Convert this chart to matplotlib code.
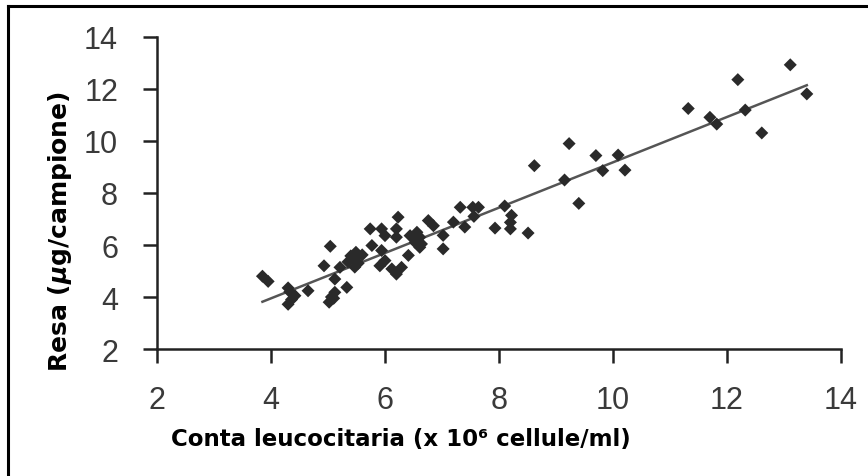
import matplotlib
matplotlib.use('Agg')
import matplotlib.pyplot as plt
from matplotlib.lines import Line2D
import numpy as np

# white cell count (x 10^6 cells/ml) vs DNA yield (ug per sample)
conta = [3.85, 3.95, 4.30, 4.33, 4.42, 4.36, 4.30, 4.65, 4.93, 5.04,
         5.12, 5.21, 5.12, 5.06, 5.02, 5.10, 5.33, 5.40, 5.46, 5.49,
         5.53, 5.35, 5.60, 5.47, 5.74, 5.77, 5.94, 6.00, 6.20, 6.20,
         5.94, 6.00, 5.91, 6.12, 6.20, 6.29, 6.23, 6.44, 6.56, 6.61,
         6.53, 6.64, 6.61, 6.76, 6.85, 6.41, 7.02, 7.02, 7.20, 7.40,
         7.32, 7.54, 7.64, 7.56, 7.93, 8.10, 8.22, 8.20, 8.20, 8.51,
         8.62, 9.15, 9.23, 9.40, 9.70, 9.82, 10.09, 10.21, 11.32, 11.70,
         11.82, 12.19, 12.32, 12.61, 13.11, 13.40]
resa = [4.80, 4.60, 4.35, 4.20, 4.05, 3.90, 3.72, 4.24, 5.20, 5.95,
        4.69, 5.14, 4.18, 4.00, 3.80, 3.95, 4.37, 5.58, 5.45, 5.72,
        5.30, 5.35, 5.62, 5.15, 6.62, 5.98, 6.62, 6.36, 6.62, 6.30,
        5.79, 5.40, 5.20, 5.08, 4.88, 5.14, 7.07, 6.36, 6.49, 6.30,
        6.10, 6.04, 5.91, 6.94, 6.74, 5.60, 6.37, 5.85, 6.88, 6.69,
        7.45, 7.45, 7.45, 7.10, 6.65, 7.50, 7.14, 6.87, 6.62, 6.46,
        9.05, 8.50, 9.90, 7.60, 9.44, 8.86, 9.46, 8.88, 11.25, 10.91,
        10.65, 12.36, 11.19, 10.31, 12.93, 11.81]

# trend line drawn in the original
fit_slope = 0.872
fit_intercept = 0.46
fit_range = [3.85, 13.4]

ticks = [2, 4, 6, 8, 10, 12, 14]

W, H = 868, 477
fig = plt.figure(figsize=(W / 100, H / 100), dpi=100)
ax = fig.add_axes([157 / W, 1 - 350 / H, (841 - 157) / W, (350 - 38) / H])

xs = np.array(fit_range)
ax.plot(xs, fit_slope * xs + fit_intercept, color='#555555', lw=1.8, zorder=2)
ax.scatter(conta, resa, marker='D', s=44, color='#2a2a2a', edgecolors='none', zorder=3)

ax.set_xlim(2, 14)
ax.set_ylim(2, 14)
ax.set_xticks(ticks)
ax.set_yticks(ticks)
for s in ['top', 'right']:
    ax.spines[s].set_visible(False)
for s in ['left', 'bottom']:
    ax.spines[s].set_linewidth(1.8)
    ax.spines[s].set_color('#222222')
ax.tick_params(axis='both', direction='out', width=1.8, color='#222222',
               labelsize=22, labelcolor='#3a3a3a')
ax.tick_params(axis='x', length=10, pad=16)
ax.tick_params(axis='y', length=10, pad=18)
for lab in ax.get_xticklabels() + ax.get_yticklabels():
    lab.set_family('Liberation Sans')

fig.text(60 / W, 1 - 232 / H, 'Resa ($\\mathbfit{\\mu}$g/campione)', rotation=90,
         ha='center', va='center', fontsize=18, fontweight='bold', color='black')
fig.text(401 / W, 1 - 440 / H, 'Conta leucocitaria (x 10\u2076 cellule/ml)',
         ha='center', va='center', fontsize=16.5, fontweight='bold', color='black')

# frame lines on the top and left of the original picture
fig.add_artist(Line2D([8 / W, 1], [1 - 7 / H, 1 - 7 / H], color='black', lw=2.2))
fig.add_artist(Line2D([8 / W, 8 / W], [0, 1 - 7 / H], color='black', lw=2.2))

fig.savefig('out.png', dpi=100, facecolor='white')
